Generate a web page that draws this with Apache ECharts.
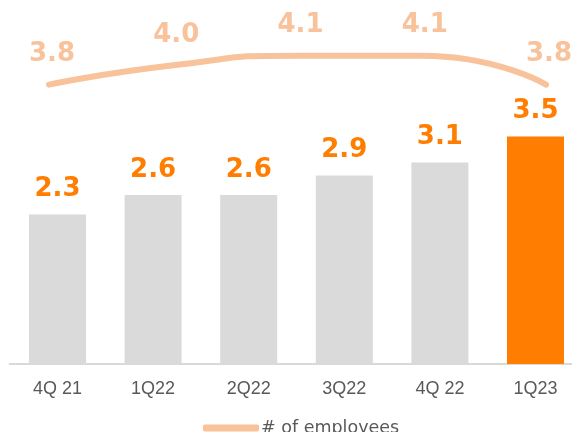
<!DOCTYPE html>
<html>
<head>
<meta charset="utf-8">
<script src="https://cdn.jsdelivr.net/npm/echarts@6/dist/echarts.min.js"></script>
<style>
  html, body { margin: 0; padding: 0; background: #ffffff; overflow: hidden; }
  /* the plot area runs slightly past the right edge of the visible page */
  #chart { width: 584px; height: 432px; }
</style>
</head>
<body>
<div id="chart"></div>
<script>
// Quarterly values shown as bars
const quarters = ['4Q 21', '1Q22', '2Q22', '3Q22', '4Q 22', '1Q23'];
const quarterValues = [2.3, 2.6, 2.6, 2.9, 3.1, 3.5];

// Headcount trend line
const employeePoints = ['1', '2', '3', '4', '5'];
const employeeValues = [3.8, 4.0, 4.1, 4.1, 3.8];
const employeeName = '# of employees';

const GRAY = '#D9DAD9';
const ORANGE = '#FF7D00';
const PEACH = '#F8C29A';
const LABEL_FONT = 'DejaVu Sans';

const chart = echarts.init(document.getElementById('chart'), null, { renderer: 'canvas' });

chart.setOption({
  animation: false,
  backgroundColor: '#ffffff',
  legend: {
    data: [employeeName],
    left: 198,
    top: 414,
    icon: 'roundRect',
    itemWidth: 56,
    itemHeight: 7,
    itemGap: 10,
    textStyle: { fontFamily: LABEL_FONT, fontSize: 17.5, color: '#595959', padding: [0, 0, 0, -3] }
  },
  grid: [
    { left: 9.7, width: 573.6, top: 39, bottom: 68, containLabel: false },
    { left: 49, width: 497, top: 17, bottom: 270, containLabel: false }
  ],
  xAxis: [
    {
      type: 'category',
      gridIndex: 0,
      data: quarters,
      axisTick: { show: false },
      axisLine: { show: true, lineStyle: { color: '#D9D9D9', width: 2 } },
      axisLabel: {
        color: '#595959',
        fontFamily: 'Liberation Sans',
        fontSize: 18,
        margin: 16
      }
    },
    {
      type: 'category',
      gridIndex: 1,
      data: employeePoints,
      boundaryGap: false,
      show: false
    }
  ],
  yAxis: [
    { type: 'value', gridIndex: 0, min: 0, max: 5, show: false },
    { type: 'value', gridIndex: 1, min: 3, max: 4.5, show: false }
  ],
  series: [
    {
      type: 'bar',
      xAxisIndex: 0,
      yAxisIndex: 0,
      barWidth: 57,
      data: quarterValues.map((v, i) => ({
        value: v,
        itemStyle: { color: i === quarterValues.length - 1 ? ORANGE : GRAY }
      })),
      label: {
        show: true,
        position: 'top',
        distance: 12,
        color: ORANGE,
        fontFamily: LABEL_FONT,
        fontWeight: 'bold',
        fontSize: 26,
        formatter: p => p.value.toFixed(1)
      }
    },
    {
      type: 'line',
      name: employeeName,
      xAxisIndex: 1,
      yAxisIndex: 1,
      data: employeeValues,
      smooth: 0.6,
      symbol: 'circle',
      symbolSize: 1,
      itemStyle: { color: PEACH },
      lineStyle: { color: PEACH, width: 6, cap: 'round' },
      label: {
        show: true,
        position: 'top',
        distance: 17,
        offset: [3, 0],
        color: PEACH,
        fontFamily: LABEL_FONT,
        fontWeight: 'bold',
        fontSize: 26,
        formatter: p => p.value.toFixed(1)
      }
    }
  ]
});
</script>
</body>
</html>
